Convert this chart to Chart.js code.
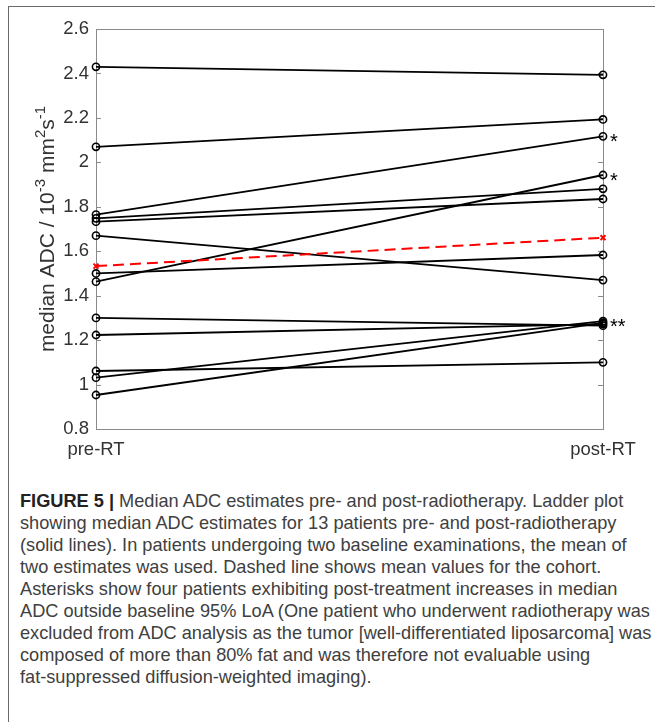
<!DOCTYPE html>
<html>
<head>
<meta charset="utf-8">
<script src="https://cdn.jsdelivr.net/npm/chart.js@4.4.1/dist/chart.umd.min.js"></script>
<style>
  html, body { margin: 0; padding: 0; background: #fff; }
  body { width: 655px; height: 722px; position: relative; overflow: hidden; }
  #frame { position: absolute; left: 8px; top: 6px; width: 700px; height: 760px;
           border-left: 1.5px solid #6a6a6a; border-top: 1.5px solid #6a6a6a; }
  #plot { position: absolute; left: 0; top: 0; }
  #caption { position: absolute; left: 20px; top: 490px;
             font-family: "Liberation Sans", Arial, sans-serif; font-size: 18.2px;
             line-height: 22px; color: #404040; white-space: nowrap; }
  #caption b { color: #222; }
</style>
</head>
<body>
<div id="frame"></div>
<canvas id="plot" width="655" height="470"></canvas>
<div id="caption">
<b>FIGURE 5 |</b> Median ADC estimates pre- and post-radiotherapy. Ladder plot<br>
showing median ADC estimates for 13 patients pre- and post-radiotherapy<br>
(solid lines). In patients undergoing two baseline examinations, the mean of<br>
two estimates was used. Dashed line shows mean values for the cohort.<br>
Asterisks show four patients exhibiting post-treatment increases in median<br>
ADC outside baseline 95% LoA (One patient who underwent radiotherapy was<br>
excluded from ADC analysis as the tumor [well-differentiated liposarcoma] was<br>
composed of more than 80% fat and was therefore not evaluable using<br>
fat-suppressed diffusion-weighted imaging).
</div>
<script>
// values (median ADC, 10^-3 mm^2/s)
var categories = ['pre-RT', 'post-RT'];
var preRT  = [2.430, 2.070, 1.765, 1.748, 1.733, 1.670, 1.463, 1.500, 1.300, 1.223, 1.061, 1.031, 0.953];
var postRT = [2.394, 2.193, 2.117, 1.881, 1.835, 1.470, 1.943, 1.583, 1.265, 1.272, 1.100, 1.285, 1.278];
var meanADC = [1.533, 1.661];
var yTicks = [0.8, 1.0, 1.2, 1.4, 1.6, 1.8, 2.0, 2.2, 2.4, 2.6];
// patients outside the 95% LoA (index into postRT) and the mark next to them
var flaggedIdx = [2, 6, 11];
var flaggedMark = ['*', '*', '**'];

var axisColor = '#8a8a8a';
var textColor = '#333';
var fontFam = '"Liberation Sans", Arial, sans-serif';

var datasets = [];
for (var i = 0; i < preRT.length; i++) {
  datasets.push({
    data: [{x: 0, y: preRT[i]}, {x: 1, y: postRT[i]}],
    borderColor: '#000',
    borderWidth: 1.8,
    pointRadius: 3.6,
    pointBorderWidth: 1.6,
    pointBorderColor: '#000',
    pointBackgroundColor: 'rgba(0,0,0,0)',
    clip: false,
    order: 1
  });
}
datasets.push({
  data: [{x: 0, y: meanADC[0]}, {x: 1, y: meanADC[1]}],
  borderColor: '#ff0000',
  borderWidth: 2,
  borderDash: [11, 6],
  pointStyle: 'crossRot',
  pointRadius: 3.5,
  pointBorderWidth: 2,
  pointBorderColor: '#ff0000',
  clip: false,
  order: 0
});

// MATLAB-like box with inward ticks on both y sides
var boxPlugin = {
  id: 'box',
  beforeDatasetsDraw: function(chart) {
    var ctx = chart.ctx, a = chart.chartArea, y = chart.scales.y;
    ctx.save();
    ctx.strokeStyle = axisColor;
    ctx.lineWidth = 1;
    ctx.strokeRect(a.left + 0.5, a.top + 0.5, a.right - a.left, a.bottom - a.top);
    ctx.beginPath();
    yTicks.forEach(function(v) {
      var py = Math.round(y.getPixelForValue(v)) + 0.5;
      ctx.moveTo(a.left, py); ctx.lineTo(a.left + 5, py);
      ctx.moveTo(a.right, py); ctx.lineTo(a.right - 5, py);
    });
    ctx.stroke();
    ctx.restore();
  },
  afterDatasetsDraw: function(chart) {
    var ctx = chart.ctx, x = chart.scales.x, y = chart.scales.y;
    ctx.save();
    ctx.fillStyle = '#000';
    ctx.font = '20px ' + fontFam;
    ctx.textAlign = 'left';
    ctx.textBaseline = 'alphabetic';
    flaggedIdx.forEach(function(idx, k) {
      var px = x.getPixelForValue(1) + 7;
      var py = y.getPixelForValue(postRT[idx]) + 12;
      ctx.fillText(flaggedMark[k], px, py);
    });
    ctx.restore();
  },
  afterDraw: function(chart) {
    // rotated y title with superscripts
    var ctx = chart.ctx, a = chart.chartArea;
    var big = '21px ' + fontFam, small = '15px ' + fontFam;
    var parts = [
      ['median ADC / 10', big, 0], ['-3', small, 9], [' mm', big, 0],
      ['2', small, 9], ['s', big, 0], ['-1', small, 9]
    ];
    ctx.save();
    var total = 0;
    parts.forEach(function(p) { ctx.font = p[1]; total += ctx.measureText(p[0]).width; });
    ctx.translate(54, (a.top + a.bottom) / 2);
    ctx.rotate(-Math.PI / 2);
    ctx.fillStyle = textColor;
    ctx.textBaseline = 'alphabetic';
    var cx = -total / 2;
    parts.forEach(function(p) {
      ctx.font = p[1];
      ctx.fillText(p[0], cx, -p[2]);
      cx += ctx.measureText(p[0]).width;
    });
    ctx.restore();
  }
};

new Chart(document.getElementById('plot').getContext('2d'), {
  type: 'line',
  data: { datasets: datasets },
  options: {
    responsive: false,
    animation: false,
    devicePixelRatio: 1,
    layout: { padding: { left: 0, top: 29, right: 52, bottom: 0 } },
    plugins: { legend: { display: false }, tooltip: { enabled: false } },
    scales: {
      x: {
        type: 'linear', min: 0, max: 1,
        afterBuildTicks: function(s) { s.ticks = [{value: 0}, {value: 1}]; },
        afterFit: function(s) { s.height = 41; },
        grid: { display: false, drawTicks: false },
        border: { display: false },
        ticks: {
          padding: 10, maxRotation: 0, color: textColor,
          font: { size: 18.5, family: fontFam },
          callback: function(v) { return categories[v]; }
        }
      },
      y: {
        min: 0.8, max: 2.6,
        afterBuildTicks: function(s) { s.ticks = yTicks.map(function(v) { return {value: v}; }); },
        afterFit: function(s) { s.width = 96; },
        grid: { display: false, drawTicks: false },
        border: { display: false },
        ticks: {
          padding: 7, color: textColor,
          font: { size: 18.5, family: fontFam },
          callback: function(v) { return String(+v.toFixed(1)); }
        }
      }
    }
  },
  plugins: [boxPlugin]
});
</script>
</body>
</html>
